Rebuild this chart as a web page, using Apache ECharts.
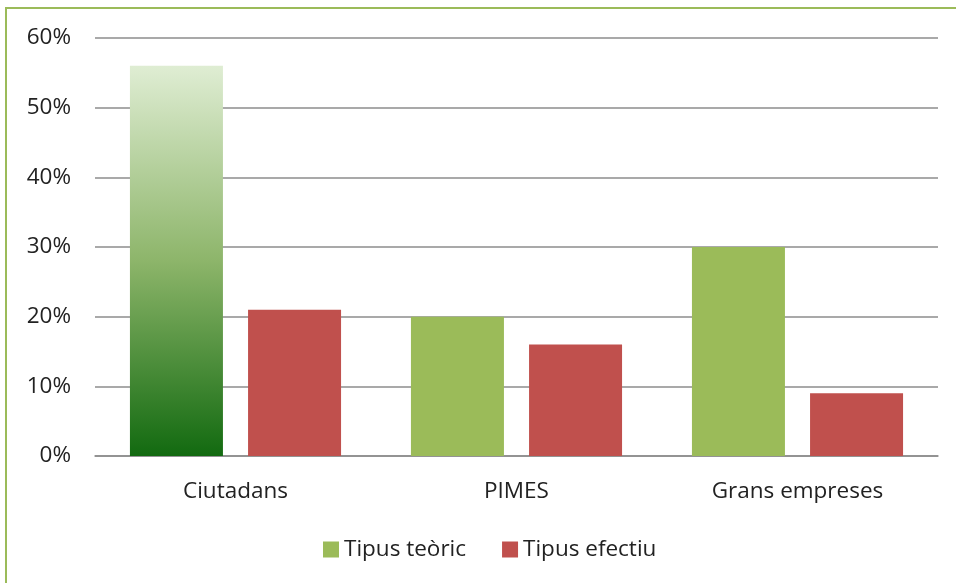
<!DOCTYPE html>
<html>
<head>
<meta charset="utf-8">
<script src="https://cdn.jsdelivr.net/npm/echarts@6/dist/echarts.min.js"></script>
<style>
  html, body { margin: 0; padding: 0; background: #fff; }
  #frame {
    position: absolute; left: 5px; top: 7px; width: 1000px; height: 700px;
    border-left: 2px solid #9BBB59; border-top: 2px solid #9BBB59;
  }
  #chart { position: absolute; left: 0; top: 0; width: 956px; height: 583px; }
</style>
</head>
<body>
<div id="frame"></div>
<div id="chart"></div>
<script>
const categories = ["Ciutadans", "PIMES", "Grans empreses"];
const teoric = [56, 20, 30];
const efectiu = [21, 16, 9];
const yTicks = [0, 10, 20, 30, 40, 50, 60];

const chart = echarts.init(document.getElementById("chart"));
const font = "'Open Sans', sans-serif";

const gradient = new echarts.graphic.LinearGradient(0, 0, 0, 1, [
  { offset: 0, color: "#DFEDD3" },
  { offset: 0.5, color: "#8DB56A" },
  { offset: 1, color: "#126A10" },
]);

chart.setOption({
  animation: false,
  textStyle: { fontFamily: font },
  grid: { left: 95, right: 18, top: 38, bottom: 127 },
  legend: {
    top: 533,
    left: 318,
    itemWidth: 16,
    itemHeight: 16,
    itemGap: 36,
    icon: "rect",
    textStyle: { fontSize: 22.5, color: "#222", fontFamily: font },
    data: ["Tipus teòric", "Tipus efectiu"],
  },
  xAxis: {
    type: "category",
    data: categories,
    axisLine: { lineStyle: { color: "#8c8c8c", width: 1.5 } },
    axisTick: { show: false },
    axisLabel: { fontSize: 22.5, color: "#222", margin: 24 },
  },
  yAxis: {
    type: "value",
    min: yTicks[0],
    max: yTicks[yTicks.length - 1],
    interval: 10,
    axisLine: { show: false },
    axisTick: { show: false },
    splitLine: { lineStyle: { color: "#8c8c8c", width: 1.5 } },
    axisLabel: { fontSize: 22.5, color: "#222", margin: 24, formatter: "{value}%" },
  },
  series: [
    {
      name: "Tipus teòric",
      type: "bar",
      data: teoric.map((v, i) => i === 0 ? { value: v, itemStyle: { color: gradient } } : v),
      itemStyle: { color: "#9BBB59" },
      barWidth: 93,
      barGap: "27%",
    },
    {
      name: "Tipus efectiu",
      type: "bar",
      data: efectiu,
      itemStyle: { color: "#C0504D" },
      barWidth: 93,
      barGap: "27%",
    },
  ],
});
</script>
</body>
</html>
